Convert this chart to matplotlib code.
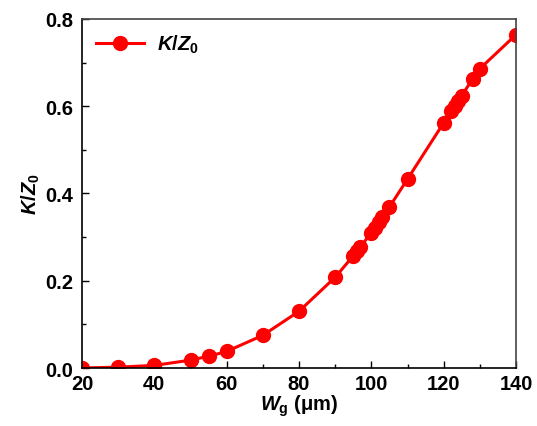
import matplotlib.pyplot as plt
from matplotlib.ticker import MultipleLocator

plt.rcParams['font.family'] = ['Liberation Sans', 'DejaVu Sans']
plt.rcParams['font.weight'] = 'bold'
plt.rcParams['mathtext.fontset'] = 'custom'
plt.rcParams['mathtext.it'] = 'Liberation Sans:italic:bold'
plt.rcParams['mathtext.rm'] = 'Liberation Sans:bold'
plt.rcParams['mathtext.bf'] = 'Liberation Sans:bold'

# gap width (um) and normalized coupling
wg = [20, 30, 40, 50, 55, 60, 70, 80, 90, 95, 96, 97, 100, 101, 102, 103,
      105, 110, 120, 122, 123, 124, 125, 128, 130, 140]
kz = [0.0, 0.002, 0.006, 0.018, 0.027, 0.038, 0.075, 0.130, 0.208, 0.257,
      0.268, 0.278, 0.310, 0.322, 0.334, 0.345, 0.369, 0.433, 0.562, 0.588,
      0.600, 0.612, 0.624, 0.663, 0.686, 0.764]

fig = plt.figure(figsize=(5.37, 4.27), dpi=100)
ax = fig.add_axes([0.1527, 0.1358, 0.8082, 0.8174])

ax.plot(wg, kz, color='#ff0000', lw=2.2, marker='o', ms=10, label=r'$K/Z_0$')

ax.set_xlim(20, 140)
ax.set_ylim(0, 0.8)
ax.xaxis.set_major_locator(MultipleLocator(20))
ax.xaxis.set_minor_locator(MultipleLocator(10))
ax.yaxis.set_major_locator(MultipleLocator(0.2))
ax.yaxis.set_minor_locator(MultipleLocator(0.1))
ax.tick_params(which='both', direction='in', labelsize=14.5)
ax.tick_params(which='major', length=5, width=1)
ax.tick_params(which='minor', length=3, width=1)
ax.tick_params(axis='y', pad=6.5)
ax.tick_params(axis='x', pad=4)
for s in ax.spines.values():
    s.set_linewidth(1.2)
ax.spines['top'].set_color('#444444')
ax.spines['right'].set_color('#444444')

ax.set_xlabel(r'$W_\mathrm{g}$ (μm)', fontsize=14.5, fontweight='bold', labelpad=0)
ax.set_ylabel(r'$K/Z_0$', fontsize=14.5, fontweight='bold', labelpad=2)

ax.legend(loc='upper left', frameon=False, fontsize=14.5, handlelength=2.4,
          borderaxespad=0.3, handletextpad=0.6)

fig.savefig('out.png', dpi=100)
